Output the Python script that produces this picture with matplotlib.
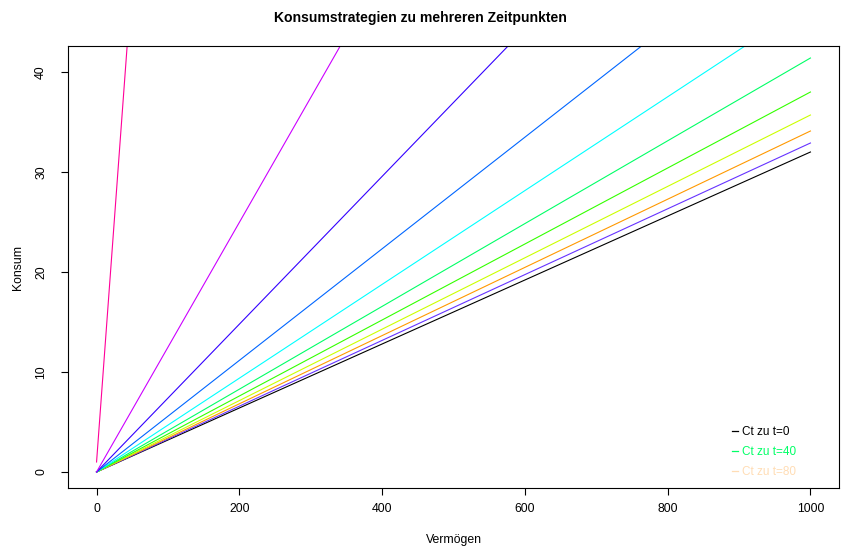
import matplotlib
matplotlib.use("Agg")
import matplotlib.pyplot as plt
from matplotlib.lines import Line2D

plt.rcParams['font.family'] = ['Liberation Sans', 'DejaVu Sans']

# wealth grid and consumption at both ends, one entry per time point
wealth = [0, 1000]
cons_start = [0, 0, 0, 0, 0, 0, 0, 0, 0, 0, 1]
cons_end = [32.0, 32.9, 34.1, 35.7, 38.0, 41.4, 46.9, 55.8, 73.9, 124.8, 972.0]
line_colors = ["#000000", "#6633FF", "#FF9900", "#CCFF00", "#33FF00", "#00FF66",
               "#00FFFF", "#0066FF", "#3300FF", "#CC00FF", "#FF0099"]

legend_labels = ["Ct zu t=0", "Ct zu t=40", "Ct zu t=80"]
legend_colors = ["#000000", "#00FF66", "#FFDDB5"]

x_ticks = [0, 200, 400, 600, 800, 1000]
y_ticks = [0, 10, 20, 30, 40]

fig = plt.figure(figsize=(8.41, 5.48), dpi=100)
ax = fig.add_axes([68 / 841, 1 - 488 / 548, 771 / 841, 442 / 548])

for c0, c1, col in zip(cons_start, cons_end, line_colors):
    ax.plot(wealth, [c0, c1], color=col, linewidth=0.8)

ax.set_xlim(-40, 1040)
ax.set_ylim(-1.6, 42.6)
ax.set_xticks(x_ticks)
ax.set_yticks(y_ticks)
ax.tick_params(axis='both', direction='out', length=5, width=0.8, labelsize=8.8)
ax.tick_params(axis='x', pad=6)
ax.tick_params(axis='y', pad=10)
for lab in ax.get_yticklabels():
    lab.set_rotation(90)
    lab.set_va('center')
for sp in ax.spines.values():
    sp.set_linewidth(0.8)

ax.set_xlabel("Vermögen", fontsize=8.8)
ax.set_ylabel("Konsum", fontsize=8.8)
ax.xaxis.set_label_coords(0.5, (488 - 540) / 442)
ax.xaxis.label.set_va('center')
ax.yaxis.set_label_coords((18 - 68) / 771, 0.5)
ax.yaxis.label.set_va('center')

fig.text(0.5, 1 - 18 / 548, "Konsumstrategien zu mehreren Zeitpunkten",
         ha='center', va='center', fontsize=10.1, fontweight='bold')

handles = [Line2D([], [], color=c, linewidth=0.9) for c in legend_colors]
leg = ax.legend(handles, legend_labels, loc='center',
                bbox_to_anchor=(764 / 841, 1 - 452 / 548), bbox_transform=fig.transFigure,
                frameon=False, fontsize=8.5, handlelength=0.5, handletextpad=0.3,
                labelspacing=0.65)
for txt, c in zip(leg.get_texts(), legend_colors):
    txt.set_color(c)

fig.savefig("out.png", dpi=100)
plt.close()
